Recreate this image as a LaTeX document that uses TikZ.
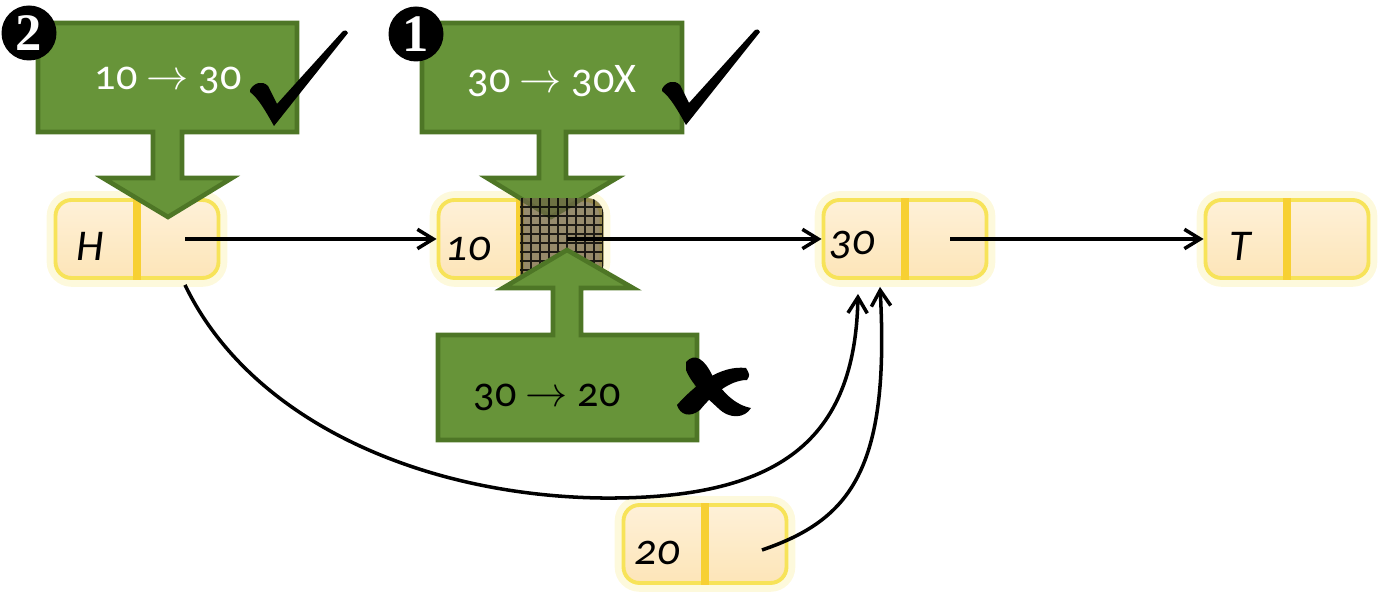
\documentclass[tikz,border=0pt]{standalone}
\usepackage{fontspec}
\setmainfont{Carlito}[Numbers=OldStyle]
\newfontfamily\badgefont{Liberation Serif}
\usetikzlibrary{arrows.meta,calc}

\definecolor{opgreen}{RGB}{103,148,57}
\definecolor{opedge}{RGB}{78,118,38}
\definecolor{peach}{RGB}{253,229,184}
\definecolor{glow}{RGB}{246,222,60}
\definecolor{hatch}{RGB}{112,102,72}

\tikzset{
	cell/.style={rounded corners=1.6mm, minimum width=16.3mm, minimum height=7.8mm, inner sep=0pt,
		top color=peach!55, bottom color=peach, draw=glow!85, line width=1.1pt,
		preaction={draw=glow!60, line width=5pt, opacity=.3}},
	divider/.style={draw=glow!85!orange, line width=2.2pt},
	val/.style={font=\fontsize{12.5}{14}\selectfont\itshape},
	opbox/.style={fill=opgreen, draw=opedge, line width=1.3pt},
	optext/.style={font=\fontsize{12}{14}\selectfont},
	link/.style={-{Straight Barb[length=4.5pt,width=5.5pt]}, line width=1pt},
	badge/.style={circle, fill=black, text=white, minimum size=5.5mm, inner sep=0pt, font=\fontsize{15}{15}\badgefont\bfseries},
	checkmark/.pic={
		\fill (0,2) .. controls (4,-5) and (12,-8) .. (18,-2) -- (27,16) -- (93,-57)
			.. controls (96,-58) .. (98,-55) -- (24,38) .. controls (15,22) and (8,10) .. (0,4) -- cycle;
	},
	crossmark/.pic={
		\fill (16,12) .. controls (25,2) and (35,10) .. (42,25) .. controls (52,42) and (65,55) .. (81,58)
			.. controls (75,68) and (60,70) .. (48,58) .. controls (35,46) and (22,35) .. (16,20) -- cycle;
		\fill (7,55) .. controls (25,35) and (50,15) .. (76,18) .. controls (80,25) .. (77,30)
			.. controls (60,30) and (42,45) .. (30,60) .. controls (20,68) and (10,65) .. (7,55) -- cycle;
	},
}

\begin{document}
\begin{tikzpicture}[x=0.1mm, y=-0.1mm]
	\useasboundingbox (0,0) rectangle (1378,598);

	% list cells
	\node [cell] (H) at (137,239) {};
	\node [cell] (n10) at (520,239) {};
	\node [cell] (n30) at (905,239) {};
	\node [cell] (T) at (1287,239) {};
	\node [cell] (n20) at (705,544) {};
	\foreach \c in {H, n10, n30, T, n20} {
		\draw [divider] (\c.north) -- (\c.south);
	}
	\node [val] (lH) at ([xshift=-4.7mm,yshift=-0.7mm]H.center) {H};
	\node [val] (l10) at ([xshift=-5.2mm,yshift=-1mm]n10.center) {10};
	\node [val] (l30) at ([xshift=-5.3mm,yshift=-0.6mm]n30.center) {30};
	\node [val] (lT) at ([xshift=-4.7mm,yshift=-0.7mm]T.center) {T};
	\node [val] (l20) at ([xshift=-4.8mm,yshift=-0.9mm]n20.center) {20};

	% operations
	\draw [opbox] (38,23) -- (297,23) -- (297,132) -- (182,132) -- (182,178) -- (232,178) -- (168,217)
		-- (103,178) -- (153,178) -- (153,132) -- (38,132) -- cycle;
	\node [optext, text=white] (op2) at (168,80) {10 $\to$ 30};
	\draw [opbox] (422,23) -- (682,23) -- (682,132) -- (566,132) -- (566,178) -- (617,178) -- (551,217)
		-- (487,178) -- (539,178) -- (539,132) -- (422,132) -- cycle;
	\node [optext, text=white] (op1) at (552,81) {30 $\to$ 30X};

	% contended cell
	\begin{scope}
		\clip [rounded corners=1.6mm] (n10.north west) rectangle (n10.south east);
		\clip (n10.north) rectangle (n10.south east);
		\fill [hatch, opacity=.72] (n10.north) rectangle (n10.south east);
		\draw [black, line width=.3pt, opacity=.8, step=0.9mm] (n10.north) grid (n10.south east);
	\end{scope}

	\draw [opbox] (438,335) -- (553,335) -- (553,288) -- (503,288) -- (567,250) -- (633,288) -- (581,288)
		-- (581,335) -- (697,335) -- (697,440) -- (438,440) -- cycle;
	\node [optext] (op3) at (547,397) {30 $\to$ 20};

	% links
	\draw [link] ([xshift=4.8mm]H.center) -- (n10.west);
	\draw [link] ([xshift=4.7mm]n10.center) -- (n30.west);
	\draw [link] ([xshift=4.5mm]n30.center) -- (T.west);
	\coordinate (in1) at ([xshift=-4.7mm,yshift=-1.4mm]n30.south);
	\coordinate (in2) at ([xshift=-2.5mm,yshift=-0.7mm]n30.south);
	\draw [link] ([xshift=4.8mm,yshift=-0.5mm]H.south) .. controls (250,420) and (420,495) .. (600,498)
		.. controls (780,500) and (855,440) .. (in1);
	\draw [link] ([xshift=5.7mm,yshift=-0.6mm]n20.center) .. controls (850,520) and (890,470) .. (in2);

	% marks
	\pic at (250,88) {checkmark};
	\pic at (662,87) {checkmark};
	\pic at (670,350) {crossmark};
	\node [badge] (b2) at (29,33) {2};
	\node [badge] (b1) at (416,34) {1};
\end{tikzpicture}
\end{document}
